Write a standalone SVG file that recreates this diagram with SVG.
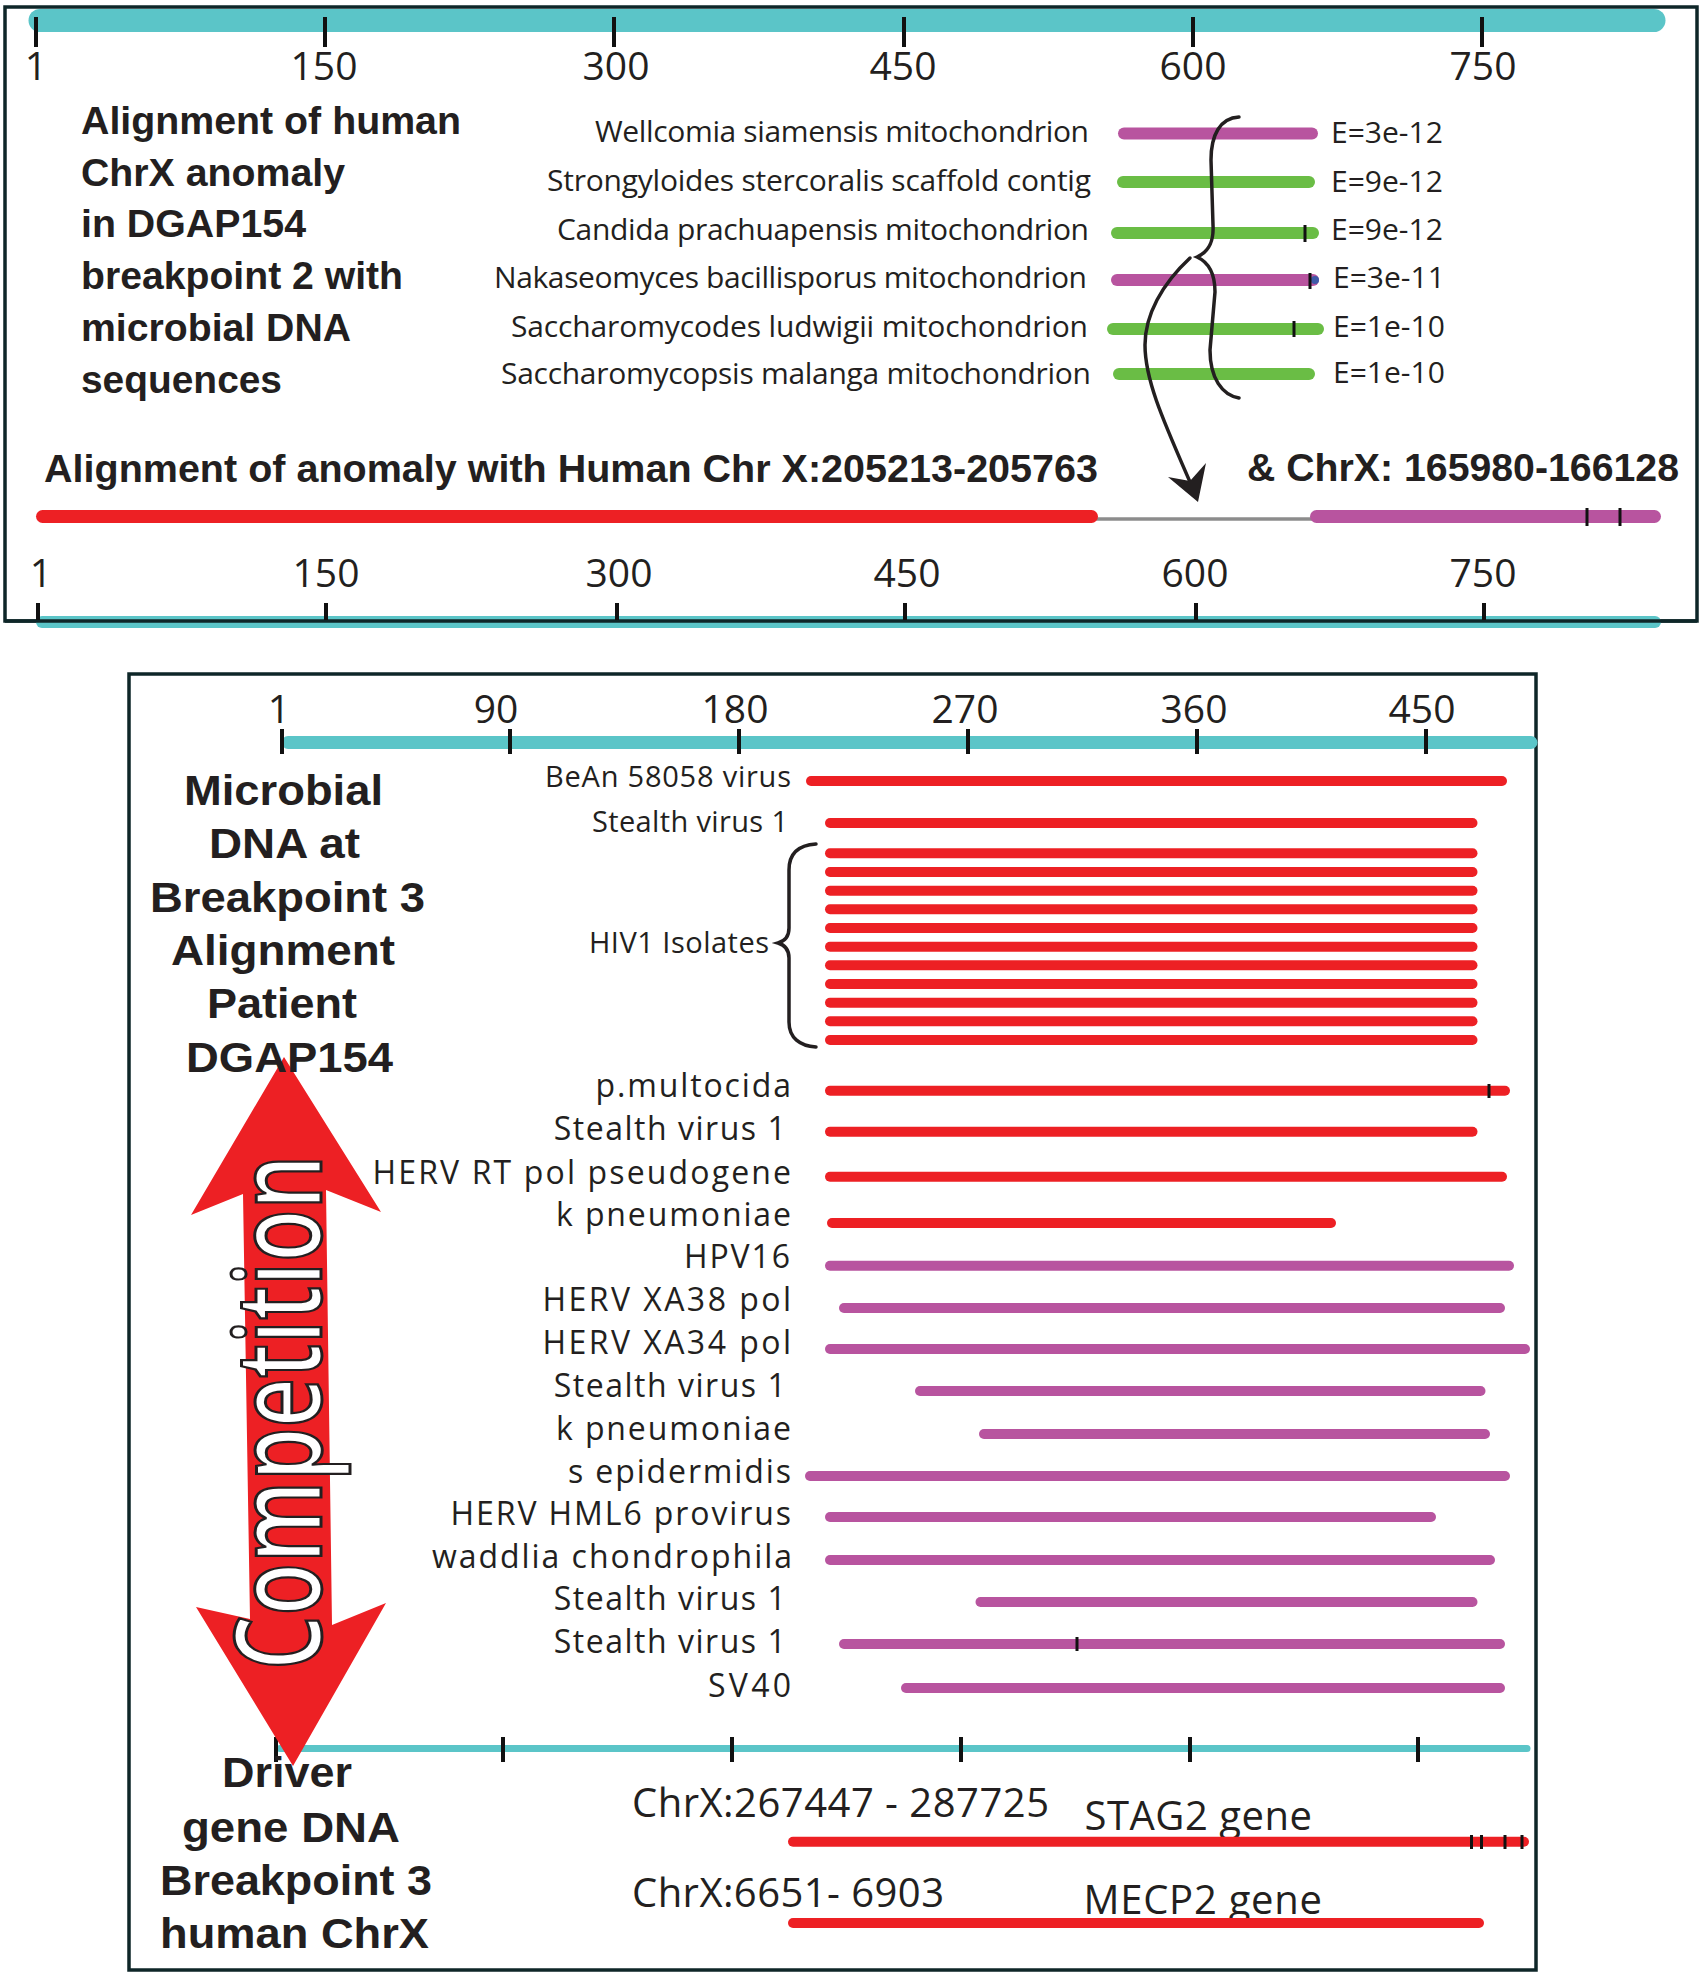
<svg xmlns="http://www.w3.org/2000/svg" width="1705" height="1977" viewBox="0 0 1705 1977">
<style>
.b{font-family:"Liberation Sans",Arial,sans-serif;font-weight:bold;fill:#231f20}
.r{font-family:"Open Sans","Noto Sans",sans-serif;fill:#231f20}
.comp{font-family:"Open Sans","Noto Sans",sans-serif;font-weight:600;fill:#ffffff;stroke:#231f20;stroke-width:3}
.ax{font-size:39px;text-anchor:middle}
.org{font-size:30px}
.lab{font-size:32px}
.lab2{font-size:29px}
.frame{fill:none;stroke:#0e2628;stroke-width:3.5}
.teal{stroke:#5bc5c8;stroke-linecap:round;fill:none}
.tick{stroke:#111;stroke-width:4}
.red{stroke:#ed2024;stroke-linecap:round}
.mag{stroke:#b8549f;stroke-linecap:round}
.grn{stroke:#6abd45;stroke-linecap:round}
.t1{stroke-width:12}
.t2{stroke-width:10}
.mk{stroke:#111;stroke-width:3}
.ink{fill:none;stroke:#231f20;stroke-width:3.5;stroke-linecap:round}
</style>

<g id="top-panel">
  <rect class="frame" x="5" y="7" width="1692" height="614"/>
  <g id="top-axis-upper">
    <line class="teal" x1="40" y1="20.5" x2="1654" y2="20.5" stroke-width="23"/>
    <line class="tick" x1="36" y1="17" x2="36" y2="47"/>
    <line class="tick" x1="325" y1="17" x2="325" y2="47"/>
    <line class="tick" x1="614" y1="17" x2="614" y2="47"/>
    <line class="tick" x1="904" y1="17" x2="904" y2="47"/>
    <line class="tick" x1="1193" y1="17" x2="1193" y2="47"/>
    <line class="tick" x1="1482" y1="17" x2="1482" y2="47"/>
    <text class="r ax" x="36" y="80">1</text>
    <text class="r ax" x="324" y="80">150</text>
    <text class="r ax" x="616" y="80">300</text>
    <text class="r ax" x="903" y="80">450</text>
    <text class="r ax" x="1193" y="80">600</text>
    <text class="r ax" x="1483" y="80">750</text>
  </g>
  <g id="top-title">
    <text class="b" font-size="39" x="81" y="134" textLength="380" lengthAdjust="spacingAndGlyphs">Alignment of human</text>
    <text class="b" font-size="39" x="81" y="186" textLength="264" lengthAdjust="spacingAndGlyphs">ChrX anomaly</text>
    <text class="b" font-size="39" x="81" y="237" textLength="225" lengthAdjust="spacingAndGlyphs">in DGAP154</text>
    <text class="b" font-size="39" x="81" y="289" textLength="322" lengthAdjust="spacingAndGlyphs">breakpoint 2 with</text>
    <text class="b" font-size="39" x="81" y="341" textLength="270" lengthAdjust="spacingAndGlyphs">microbial DNA</text>
    <text class="b" font-size="39" x="81" y="393" textLength="201" lengthAdjust="spacingAndGlyphs">sequences</text>
  </g>
  <g id="top-hits">
    <text class="r org" x="595" y="142" textLength="494">Wellcomia siamensis mitochondrion</text>
    <text class="r org" x="547" y="191" textLength="544">Strongyloides stercoralis scaffold contig</text>
    <text class="r org" x="557" y="240" textLength="532">Candida prachuapensis mitochondrion</text>
    <text class="r org" x="494" y="288" textLength="593">Nakaseomyces bacillisporus mitochondrion</text>
    <text class="r org" x="511" y="337" textLength="577">Saccharomycodes ludwigii mitochondrion</text>
    <text class="r org" x="501" y="384" textLength="590">Saccharomycopsis malanga mitochondrion</text>
    <line class="mag t1" x1="1124" y1="133.5" x2="1312" y2="133.5"/>
    <line class="grn t1" x1="1123" y1="182" x2="1309" y2="182"/>
    <line class="grn t1" x1="1117" y1="233" x2="1313" y2="233"/>
    <line class="mag t1" x1="1117" y1="280" x2="1313" y2="280"/>
    <line class="grn t1" x1="1113" y1="329" x2="1318" y2="329"/>
    <line class="grn t1" x1="1119" y1="374" x2="1309" y2="374"/>
    <circle cx="1315" cy="280" r="4" fill="#3f5aa8"/>
    <line class="mk" stroke-width="3.5" x1="1305" y1="225" x2="1305" y2="242"/>
    <line class="mk" stroke-width="3.5" x1="1310" y1="273" x2="1310" y2="289"/>
    <line class="mk" x1="1294" y1="321" x2="1294" y2="337"/>
    <text class="r org" x="1331" y="143">E=3e-12</text>
    <text class="r org" x="1331" y="192">E=9e-12</text>
    <text class="r org" x="1331" y="240">E=9e-12</text>
    <text class="r org" x="1333" y="288">E=3e-11</text>
    <text class="r org" x="1333" y="337">E=1e-10</text>
    <text class="r org" x="1333" y="383">E=1e-10</text>
  </g>
  <g id="top-alignment">
    <text class="b" font-size="39" x="44" y="482" textLength="1054" lengthAdjust="spacingAndGlyphs">Alignment of anomaly with Human Chr X:205213-205763</text>
    <text class="b" font-size="39" x="1247" y="481" textLength="432" lengthAdjust="spacingAndGlyphs">&amp; ChrX: 165980-166128</text>
    <line x1="1095" y1="519" x2="1312" y2="519" stroke="#8c8c8c" stroke-width="3.5"/>
    <line class="red" stroke-width="13" x1="42.5" y1="516.5" x2="1091.5" y2="516.5"/>
    <line class="mag" stroke-width="13" x1="1316.5" y1="516.5" x2="1654.5" y2="516.5"/>
    <line class="mk" x1="1587" y1="508" x2="1587" y2="526"/>
    <line class="mk" x1="1620" y1="508" x2="1620" y2="526"/>
  </g>
  <g id="top-axis-lower">
    <text class="r ax" x="41" y="587">1</text>
    <text class="r ax" x="326" y="587">150</text>
    <text class="r ax" x="619" y="587">300</text>
    <text class="r ax" x="907" y="587">450</text>
    <text class="r ax" x="1195" y="587">600</text>
    <text class="r ax" x="1483" y="587">750</text>
    <line class="teal" x1="42" y1="622" x2="1655" y2="622" stroke-width="12"/>
    <line x1="5" y1="621" x2="1697" y2="621" stroke="#0e2628" stroke-width="3.5"/>
    <line class="tick" x1="38" y1="603" x2="38" y2="620"/>
    <line class="tick" x1="326" y1="603" x2="326" y2="620"/>
    <line class="tick" x1="617" y1="603" x2="617" y2="620"/>
    <line class="tick" x1="905" y1="603" x2="905" y2="620"/>
    <line class="tick" x1="1196" y1="603" x2="1196" y2="620"/>
    <line class="tick" x1="1484" y1="603" x2="1484" y2="620"/>
  </g>
</g>

<g id="connectors">
  <path id="brace-top" class="ink" stroke-width="3" d="M1239,117 C1220,118 1211,135 1211,160 L1213,225 C1214,243 1208,252 1197,257 C1208,262 1215,272 1215,292 L1210,350 C1210,378 1222,395 1239,398"/>
  <path id="arrow-top" class="ink" d="M1190,258 C1162,284 1145,315 1145,345 C1145,380 1163,420 1190,482"/>
  <polygon points="1198,502 1168,477 1190,481 1206,463" fill="#231f20"/>
  <path id="brace-hiv" class="ink" stroke-width="2.5" d="M816,844 C800,845 789,852 789,870 L789,928 C789,937 785,941 778,943 C785,945 789,950 789,958 L789,1022 C789,1038 800,1046 816,1047"/>
</g>

<g id="bottom-panel">
  <rect class="frame" x="129" y="674" width="1407" height="1296"/>
  <g id="bottom-axis-upper">
    <line class="teal" x1="288" y1="742.5" x2="1531" y2="742.5" stroke-width="13"/>
    <line class="tick" x1="282" y1="729" x2="282" y2="754"/>
    <line class="tick" x1="510" y1="729" x2="510" y2="754"/>
    <line class="tick" x1="739" y1="729" x2="739" y2="754"/>
    <line class="tick" x1="968" y1="729" x2="968" y2="754"/>
    <line class="tick" x1="1197" y1="729" x2="1197" y2="754"/>
    <line class="tick" x1="1426" y1="729" x2="1426" y2="754"/>
    <text class="r ax" x="279" y="723">1</text>
    <text class="r ax" x="496" y="723">90</text>
    <text class="r ax" x="735" y="723">180</text>
    <text class="r ax" x="965" y="723">270</text>
    <text class="r ax" x="1194" y="723">360</text>
    <text class="r ax" x="1422" y="723">450</text>
  </g>
  <g id="bottom-axis-lower">
    <line class="teal" x1="280" y1="1748.5" x2="1527" y2="1748.5" stroke-width="7"/>
    <line class="tick" stroke-width="3.5" x1="276" y1="1737" x2="276" y2="1762"/>
    <line class="tick" stroke-width="3.5" x1="503" y1="1737" x2="503" y2="1762"/>
    <line class="tick" stroke-width="3.5" x1="732" y1="1737" x2="732" y2="1762"/>
    <line class="tick" stroke-width="3.5" x1="961" y1="1737" x2="961" y2="1762"/>
    <line class="tick" stroke-width="3.5" x1="1190" y1="1737" x2="1190" y2="1762"/>
    <line class="tick" stroke-width="3.5" x1="1418" y1="1737" x2="1418" y2="1762"/>
  </g>
  <g id="competition-arrow">
    <polygon points="284,1057 381,1212 326,1190 332,1625 386,1603 293,1766 196,1607 250,1619 243,1194 191,1215" fill="#ed2024"/>
    <text class="comp" font-size="120" transform="translate(321,1670) rotate(-90)" textLength="515" lengthAdjust="spacingAndGlyphs">Competition</text>
  </g>
  <g id="microbial-title">
    <text class="b" font-size="42" x="184" y="805" textLength="199" lengthAdjust="spacingAndGlyphs">Microbial</text>
    <text class="b" font-size="42" x="209" y="858" textLength="151" lengthAdjust="spacingAndGlyphs">DNA at</text>
    <text class="b" font-size="42" x="150" y="912" textLength="275" lengthAdjust="spacingAndGlyphs">Breakpoint 3</text>
    <text class="b" font-size="42" x="171" y="965" textLength="224" lengthAdjust="spacingAndGlyphs">Alignment</text>
    <text class="b" font-size="42" x="207" y="1018" textLength="150" lengthAdjust="spacingAndGlyphs">Patient</text>
    <text class="b" font-size="42" x="186" y="1072" textLength="207" lengthAdjust="spacingAndGlyphs">DGAP154</text>
  </g>
  <g id="driver-title">
    <text class="b" font-size="42" x="222" y="1787" textLength="130" lengthAdjust="spacingAndGlyphs">Driver</text>
    <text class="b" font-size="42" x="182" y="1842" textLength="218" lengthAdjust="spacingAndGlyphs">gene DNA</text>
    <text class="b" font-size="42" x="160" y="1895" textLength="272" lengthAdjust="spacingAndGlyphs">Breakpoint 3</text>
    <text class="b" font-size="42" x="160" y="1948" textLength="269" lengthAdjust="spacingAndGlyphs">human ChrX</text>
  </g>
  <g id="hit-labels">
    <text class="r lab2" x="545" y="787" textLength="246">BeAn 58058 virus</text>
    <text class="r lab2" x="592" y="832" textLength="196">Stealth virus 1</text>
    <text class="r lab2" x="589" y="953" textLength="180">HIV1 Isolates</text>
    <text class="r lab" x="595.5" y="1097" textLength="195.5">p.multocida</text>
    <text class="r lab" x="553.7" y="1140" textLength="232">Stealth virus 1</text>
    <text class="r lab" x="372.5" y="1184" textLength="418.5">HERV RT pol pseudogene</text>
    <text class="r lab" x="556" y="1226" textLength="235">k pneumoniae</text>
    <text class="r lab" x="684" y="1268" textLength="106">HPV16</text>
    <text class="r lab" x="542.4" y="1311" textLength="248.6">HERV XA38 pol</text>
    <text class="r lab" x="542.4" y="1354" textLength="248.6">HERV XA34 pol</text>
    <text class="r lab" x="553.7" y="1397" textLength="232">Stealth virus 1</text>
    <text class="r lab" x="556" y="1440" textLength="235">k pneumoniae</text>
    <text class="r lab" x="568" y="1483" textLength="223">s epidermidis</text>
    <text class="r lab" x="450.6" y="1525" textLength="340.4">HERV HML6 provirus</text>
    <text class="r lab" x="432" y="1568" textLength="360">waddlia chondrophila</text>
    <text class="r lab" x="553.7" y="1610" textLength="232">Stealth virus 1</text>
    <text class="r lab" x="553.7" y="1653" textLength="232">Stealth virus 1</text>
    <text class="r lab" x="708" y="1697" textLength="83">SV40</text>
  </g>
  <g id="hit-bars">
    <line class="red t2" x1="811" y1="781" x2="1502" y2="781"/>
    <line class="red t2" x1="830" y1="823" x2="1472.5" y2="823"/>
    <line class="red t2" x1="830" y1="853.3" x2="1472.5" y2="853.3"/>
    <line class="red t2" x1="830" y1="872" x2="1472.5" y2="872"/>
    <line class="red t2" x1="830" y1="890.7" x2="1472.5" y2="890.7"/>
    <line class="red t2" x1="830" y1="909.3" x2="1472.5" y2="909.3"/>
    <line class="red t2" x1="830" y1="928" x2="1472.5" y2="928"/>
    <line class="red t2" x1="830" y1="946.7" x2="1472.5" y2="946.7"/>
    <line class="red t2" x1="830" y1="965.3" x2="1472.5" y2="965.3"/>
    <line class="red t2" x1="830" y1="984" x2="1472.5" y2="984"/>
    <line class="red t2" x1="830" y1="1002.7" x2="1472.5" y2="1002.7"/>
    <line class="red t2" x1="830" y1="1021.3" x2="1472.5" y2="1021.3"/>
    <line class="red t2" x1="830" y1="1040" x2="1472.5" y2="1040"/>
    <line class="red t2" x1="830" y1="1090.7" x2="1505" y2="1090.7"/>
    <line class="mk" x1="1489" y1="1084" x2="1489" y2="1098"/>
    <line class="red t2" x1="830" y1="1131.7" x2="1472.5" y2="1131.7"/>
    <line class="red t2" x1="830" y1="1176.7" x2="1502" y2="1176.7"/>
    <line class="red t2" x1="832" y1="1223" x2="1331" y2="1223"/>
    <line class="mag t2" x1="830" y1="1265.7" x2="1509" y2="1265.7"/>
    <line class="mag t2" x1="844" y1="1308" x2="1500" y2="1308"/>
    <line class="mag t2" x1="830" y1="1349" x2="1525" y2="1349"/>
    <line class="mag t2" x1="920" y1="1391" x2="1480.5" y2="1391"/>
    <line class="mag t2" x1="984" y1="1434" x2="1485" y2="1434"/>
    <line class="mag t2" x1="810" y1="1476" x2="1505" y2="1476"/>
    <line class="mag t2" x1="830" y1="1517" x2="1431" y2="1517"/>
    <line class="mag t2" x1="830" y1="1560" x2="1490" y2="1560"/>
    <line class="mag t2" x1="980.5" y1="1602" x2="1472.5" y2="1602"/>
    <line class="mag t2" x1="844" y1="1644" x2="1500" y2="1644"/>
    <line class="mk" x1="1077" y1="1637" x2="1077" y2="1651"/>
    <line class="mag t2" x1="906" y1="1688" x2="1500" y2="1688"/>
  </g>
  <g id="driver-genes">
    <text class="r" font-size="40" x="632" y="1817" textLength="417">ChrX:267447 - 287725</text>
    <text class="r" font-size="40" x="1084.5" y="1830" textLength="227.5">STAG2 gene</text>
    <line class="red t2" x1="793" y1="1841.7" x2="1524" y2="1841.7"/>
    <line class="mk" x1="1471.5" y1="1835" x2="1471.5" y2="1849"/>
    <line class="mk" x1="1481.5" y1="1835" x2="1481.5" y2="1849"/>
    <line class="mk" x1="1505" y1="1835" x2="1505" y2="1849"/>
    <line class="mk" x1="1522" y1="1835" x2="1522" y2="1849"/>
    <text class="r" font-size="40" x="632" y="1907" textLength="312">ChrX:6651- 6903</text>
    <text class="r" font-size="40" x="1083.5" y="1914" textLength="238.5">MECP2 gene</text>
    <line class="red t2" x1="793" y1="1923" x2="1479" y2="1923"/>
  </g>
</g>
</svg>
